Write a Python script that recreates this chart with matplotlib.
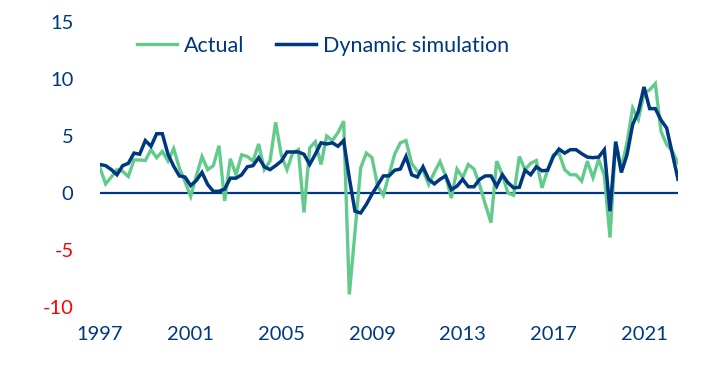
import numpy as np
import matplotlib
matplotlib.use("Agg")
import matplotlib.pyplot as plt

# ---- data (quarterly, 1997Q1 onwards) ----
actual = [2.2, 0.8, 1.4, 2.05, 1.9, 1.45, 2.9, 2.9, 2.85, 3.8,
          3.1, 3.65, 2.8, 3.9, 2.2, 1.0, -0.3, 1.5, 3.2, 2.05,
          2.4, 4.15, -0.7, 3.0, 1.6, 3.35, 3.2, 2.8, 4.3, 2.05,
          2.8, 6.2, 3.3, 2.05, 3.5, 3.8, -1.7, 3.95, 4.5, 2.5,
          5.0, 4.6, 5.3, 6.3, -8.9, -3.4, 2.2, 3.5, 3.1, 0.6,
          -0.2, 1.6, 3.4, 4.4, 4.6, 2.6, 1.9, 2.0, 0.75, 1.8,
          2.75, 1.5, -0.45, 2.1, 1.35, 2.5, 2.1, 0.7, -1.0, -2.6,
          2.8, 1.6, 0.0, -0.2, 3.2, 2.05, 2.6, 2.85, 0.45, 2.05,
          3.35, 3.5, 2.05, 1.6, 1.6, 1.05, 2.8, 1.35, 2.95, 1.55,
          -3.9, 4.5, 2.2, 4.4, 7.45, 6.45, 8.75, 9.05, 9.6, 5.4,
          4.25, 3.65, 2.65]

dynamic = [2.5, 2.4, 2.05, 1.6, 2.4, 2.6, 3.5, 3.4, 4.6, 4.1,
           5.2, 5.2, 3.4, 2.35, 1.5, 1.4, 0.65, 1.1, 1.8, 0.75,
           0.15, 0.15, 0.35, 1.3, 1.3, 1.6, 2.3, 2.4, 3.1, 2.3,
           2.05, 2.4, 2.8, 3.6, 3.6, 3.6, 3.4, 2.5, 3.4, 4.4,
           4.3, 4.4, 4.1, 4.6, 1.3, -1.6, -1.75, -1.0, -0.1, 0.7,
           1.5, 1.5, 2.0, 2.1, 3.2, 1.6, 1.4, 2.3, 1.2, 0.8,
           1.2, 1.5, 0.3, 0.6, 1.2, 0.55, 0.55, 1.2, 1.5, 1.5,
           0.6, 1.6, 0.9, 0.45, 0.5, 2.0, 1.6, 2.3, 1.95, 2.0,
           3.2, 3.85, 3.5, 3.8, 3.8, 3.45, 3.15, 3.1, 3.15, 3.8,
           -1.6, 4.5, 1.8, 3.35, 6.0, 7.15, 9.3, 7.4, 7.4, 6.4,
           5.7, 3.45, 1.2]

year_labels = ["1997", "2001", "2005", "2009", "2013", "2017", "2021"]
y_ticks = [-10, -5, 0, 5, 10, 15]
series_names = ["Actual", "Dynamic simulation"]

GREEN = "#62CB8C"
NAVY = "#003781"
RED = "#FF0000"

plt.rcParams['font.family'] = ['Lato', 'DejaVu Sans']

fig = plt.figure(figsize=(7.05, 3.65), dpi=100)
ax = fig.add_axes([100 / 705, 1 - 307 / 365, (678 - 100) / 705, (307 - 22) / 365])

x = np.arange(len(actual))
ax.axhline(0, color=NAVY, lw=1.6, zorder=1)
ax.plot(x, actual, color=GREEN, lw=2.4, label=series_names[0], zorder=2,
        solid_joinstyle='miter')
ax.plot(x, dynamic, color=NAVY, lw=2.5, label=series_names[1], zorder=3,
        solid_joinstyle='miter')

ax.set_xlim(0, len(actual) - 1)
ax.set_ylim(-10, 15)
ax.set_yticks(y_ticks)
ax.set_yticklabels([str(v) for v in y_ticks])
ax.set_xticks(np.arange(0, len(actual), 16)[:len(year_labels)])
ax.set_xticklabels(year_labels)

for s in ax.spines.values():
    s.set_visible(False)
ax.tick_params(axis='both', length=0, labelsize=14.5, colors=NAVY)
ax.tick_params(axis='y', pad=19)
ax.tick_params(axis='x', pad=14)
for lbl, v in zip(ax.get_yticklabels(), y_ticks):
    lbl.set_color(RED if v < 0 else NAVY)

leg = ax.legend(loc='center', bbox_to_anchor=(323 / 705, 1 - 46 / 365),
                bbox_transform=fig.transFigure, ncol=2, frameon=False,
                fontsize=15.5, handlelength=1.85, handletextpad=0.3,
                columnspacing=1.5)
for t in leg.get_texts():
    t.set_color(NAVY)

fig.savefig("out.png", dpi=100)
